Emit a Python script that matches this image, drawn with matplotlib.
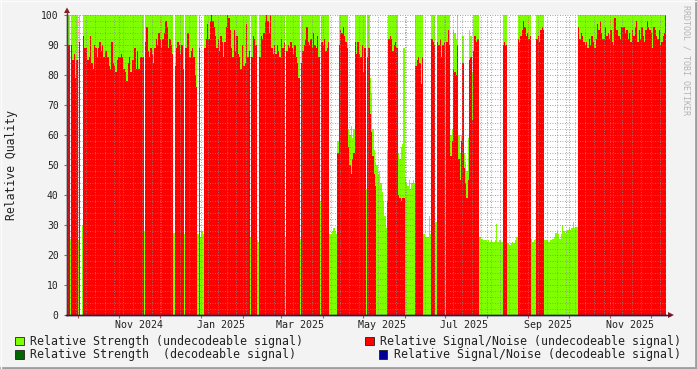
import datetime as dt
import numpy as np
import matplotlib
matplotlib.use("Agg")
import matplotlib.pyplot as plt
import matplotlib.dates as mdates
import matplotlib.transforms as mtransforms
from matplotlib.ticker import MultipleLocator, NullFormatter
from matplotlib.patches import Rectangle, Polygon
from matplotlib.lines import Line2D

# one value per day, starting at the left edge of the graph
start = dt.date(2024, 9, 23)
n = None

# relative signal/noise (undecodeable), red
snr = [
    83, 90, n, 90, 85, 87, 79, 85, n, 91, n, n,                                   # d0
    93, 89, 89, 85, 86, 93, 84, 82, 90, 89, 86, 89, 91, 88, 90, 86, 88, 88, 86, 83,  # d12
    82, 91, 84, 83, 81, 85, 86, 86, 87, 86, 82, 81, 78, 84, 86, 81, 85, 85, 89, 82,
    88, 82, 86, 86, 86,
    n,                                                                            # d57
    91, 96, 88, 86, 89, 87, 84, 89, 92, 90, 94, 92, 89, 92, 94, 98, 96, 89, 92, 90, 87,
    n, 83, 89, 91, 90, 87, 90, 82, n, 89, 94, 94, 86, 88, 89, 86, 80, 76, n, 89, n, n, n,
    89, 92, 97, 92, 98, 100, 98, 96, 93, 89, 92, 88, 93, 91, 86, 91, 96, 100, 99, 95,  # d102
    89, 86, 95, 88, 93, 87, 86, 82, 90, 83, 84, 97, 86, 88,
    n, 86, 93, 92, 90, n, n,                                                      # d136
    86, 93, 92, 94, 98, 100, 98, 94, 100, 89, 87, 90, 87, 90, 88, 86, 92, 89, 91,
    n, 88, 90, 89, 91, 89, 87, 90, 86, 84, 79, n,                                 # d162
    84, 88, 90, 92, 96, 91, 90, 92, 89, 94, 90, 89, 93, 86,
    n, 91, 90, 92, 88, 89, 91, n, n, n, n, n, n, 54,                              # d188
    90, 95, 94, 96, 93, 91, 89, 56, 50, 47, 52, 54,                               # d202
    91, 87, 91, 87, 86, 90, 81, 89, n, 86, 89,                                    # d214
    67, 61, 53, 47, 43, n, n, n, n, n, n, n, n, 38,                               # d225
    92, 93, 92, 88, 90, 91, 89, 40, 39, 38, 39, 39,                               # d239
    n, n, n, n, n, n, n, n, 83, 85, 86, 84, 77, 86,                               # d251
    n, n, n, n, n, n, 92, 91, 90, n, 91, 90, 92, 86, 90, 91, n,                   # d265
    91, 95, 90, 53, 58, 82, 81, 80, 90, 52, 45, 58, 84, 49, 44, 39, 45, 85, 86, 65,  # d282
    88, 93, 91, 92,
    n, n, n, n, n, n, n, n, n, n, n, n, n, n, n, n, n, n,                         # d306
    90, 91, 90, n, n, n, n, n, n, n, n,                                           # d324
    92, 91, 93, 95, 98, 96, 93, 94, 92, 93, n, n, n, n,                           # d335
    92, 93, 91, 95, 96, 95,                                                       # d349
    n, n, n, n, n, n, n, n, n, n, n, n, n, n, n, n, n, n, n, n, n, n, n, n, n,    # d355
    96, 92, 94, 93, 91, 90, 91, 89, 92, 90, 93, 91, 89, 92,                       # d380
    97, 95, 98, 94, 92, 92, 96, 93, 94, 92, 95, 91, 90, 99, 95, 95, 93, 92, 96, 96,  # d394
    96, 94, 95, 92, 94, 91, 95, 93, 96, 98, 91, 95, 92, 96, 93, 91, 95, 98, 96, 95,
    94, 89, 96, 95, 93, 92, 95, 90, 91, 93, 94, 100,
]

# relative strength (undecodeable), lime
strength = (
    [100, 100, 25.5, 100, 100, 100, 100, 100, 25, 100, n, 30]
    + [100] * 45
    + [28]
    + [100] * 21
    + [27.5] + [100] * 7 + [27] + [100] * 9 + [27, 100, 26, 28, 27]
    + [100] * 34
    + [26, 100, 100, 100, 100, 25, 24.5]
    + [100] * 19
    + [26] + [100] * 10 + [25.5]
    + [100] * 14
    + [38] + [100] * 6 + [27, 27, 28, 29, 28, 27, 58]
    + [100] * 7 + [62, 60, 63, 59, 62]
    + [100] * 8 + [42, 100, 100]
    + [79, 74, 62, 55, 51, 50, 47, 48, 44, 41, 38, 33, 29, 55]
    + [100] * 7 + [54, 52, 56, 57, 89]
    + [46, 44, 43, 45, 42, 44, 45, 44] + [100] * 6
    + [27, 26, 26, 26, 33, 27, 100, 100, 100, 31] + [100] * 7
    + [100, 100, 100, 60, 62, 95, 94, 92, 100, 60, 54, 60, 93, 54, 51, 48, 59, 95, 93, 81,
       100, 100, 100, 100]
    + [26, 26, 25.5, 25, 25, 25, 24.5, 25, 24.5, 25, 24.5, 24.5, 25, 30.5, 24.5, 25, 25, 24.5]
    + [100, 100, 100, 24, 24, 23.5, 24, 24.5, 24, 25, 26]
    + [100] * 10 + [25.5, 24.5, 25, 25.5]
    + [100] * 6
    + [25, 25, 25, 24.5, 25, 25, 25.5, 26, 27.5, 28, 27, 25.5, 27, 30, 28, 27.5, 28, 28.5,
       29, 28.5, 29, 31, 29, 29.5, 29.5]
    + [100] * 14
    + [100] * 52
)

label_months = [(2024, 11), (2025, 1), (2025, 3), (2025, 5), (2025, 7), (2025, 9), (2025, 11)]

legend_items = [
    ("Relative Strength (undecodeable signal)", "#80FF00"),
    ("Relative Signal/Noise (undecodeable signal)", "#FF0000"),
    ("Relative Strength  (decodeable signal)", "#006600"),
    ("Relative Signal/Noise (decodeable signal)", "#000099"),
]

snr = np.array(snr, dtype=float)
strength = np.array(strength, dtype=float)
x0 = mdates.date2num(start)
x = x0 + np.arange(len(snr))

W, H = 697, 369
plt.rcParams['font.family'] = ['DejaVu Sans Mono']
fig = plt.figure(figsize=(W / 100, H / 100), dpi=100, facecolor='#F3F3F3')
ax = fig.add_axes([67 / W, (H - 315) / H, 599 / W, 300 / H])
ax.set_facecolor('white')

m = ~np.isnan(strength)
ax.bar(x[m], strength[m], width=1.0, align='edge', color='#80FF00',
       linewidth=0, antialiased=False, zorder=1)
m = ~np.isnan(snr)
ax.bar(x[m], snr[m], width=1.0, align='edge', color='#FF0000',
       linewidth=0, antialiased=False, zorder=1.5)

ax.set_xlim(x0, x0 + 445.4)
ax.set_ylim(0, 100)

ax.yaxis.set_major_locator(MultipleLocator(10))
ax.yaxis.set_minor_locator(MultipleLocator(2))
ax.xaxis.set_major_locator(mdates.MonthLocator())
ax.xaxis.set_minor_locator(mdates.WeekdayLocator(byweekday=mdates.MO))
ax.xaxis.set_major_formatter(NullFormatter())

ax.set_axisbelow(False)
ax.grid(which='minor', color=(0.55, 0.55, 0.55, 0.22), linestyle=(0, (1, 2)), linewidth=0.6)
ax.grid(which='major', color=(1.0, 0.3, 0.3, 0.4), linestyle=(0, (1, 2)), linewidth=0.6)

ax.tick_params(which='major', length=2, width=0.8, color='#C05050', labelsize=7, pad=4)
ax.tick_params(which='minor', length=0)
ax.tick_params(axis='y', labelcolor='#222222')
for s in ['top', 'right']:
    ax.spines[s].set_visible(False)
ax.spines['left'].set_color('#404050')
ax.spines['bottom'].set_color('#202050')
ax.spines['left'].set_linewidth(1)
ax.spines['bottom'].set_linewidth(1)

# month labels centred in the middle of the month
tr = mtransforms.blended_transform_factory(ax.transData, fig.transFigure)
for yy, mm in label_months:
    xm = mdates.date2num(dt.date(yy, mm, 1)) + 14.5
    ax.text(xm, (H - 325) / H, dt.date(yy, mm, 1).strftime('%b %Y'), transform=tr,
            ha='center', va='center', fontsize=7.2, color='#222222')

fig.text(12 / W, (H - 165) / H, 'Relative Quality', rotation=90, ha='center',
         va='center', fontsize=8.3, color='#222222')
fig.text(686 / W, (H - 5) / H, 'RRDTOOL / TOBI OETIKER', rotation=270, ha='center',
         va='top', fontsize=6, color='#B4B4B4')

# axis arrows and extensions
def px(xp, yp):
    return (xp / W, (H - yp) / H)

fig.add_artist(Line2D([px(67, 315)[0], px(67, 11)[0]], [px(67, 315)[1], px(67, 11)[1]],
                      transform=fig.transFigure, color='#404050', lw=1))
fig.add_artist(Line2D([px(66, 315)[0], px(670, 315)[0]], [px(66, 315)[1], px(670, 315)[1]],
                      transform=fig.transFigure, color='#202050', lw=1))
fig.add_artist(Polygon([px(64, 13), px(70, 13), px(67, 7.5)], closed=True,
                       transform=fig.transFigure, color='#8B1A1A', lw=0))
fig.add_artist(Polygon([px(668, 312), px(668, 318), px(674, 315)], closed=True,
                       transform=fig.transFigure, color='#8B1A1A', lw=0))

# legend
rows = [(341, 15, 30), (341, 365, 380), (354.5, 15, 30), (354.5, 379, 394)]
for (label, col), (yc, bx, tx) in zip(legend_items, rows):
    fig.add_artist(Rectangle(px(bx, yc + 4.2), 8.5 / W, 8.5 / H, transform=fig.transFigure,
                             facecolor=col, edgecolor='#202020', lw=0.6))
    fig.text(tx / W, (H - yc) / H, label, ha='left', va='center', fontsize=8.4,
             color='#222222')

# frame
fig.add_artist(Line2D([0, 1], [1 / H, 1 / H], transform=fig.transFigure, color='#9E9E9E', lw=2))
fig.add_artist(Line2D([1 - 1 / W, 1 - 1 / W], [0, 1], transform=fig.transFigure, color='#9E9E9E', lw=2))
fig.add_artist(Line2D([0, 1], [1 - 0.5 / H, 1 - 0.5 / H], transform=fig.transFigure, color='#FCFCFC', lw=1))
fig.add_artist(Line2D([0.5 / W, 0.5 / W], [0, 1], transform=fig.transFigure, color='#FCFCFC', lw=1))

fig.savefig('out.png', dpi=100, facecolor=fig.get_facecolor())
